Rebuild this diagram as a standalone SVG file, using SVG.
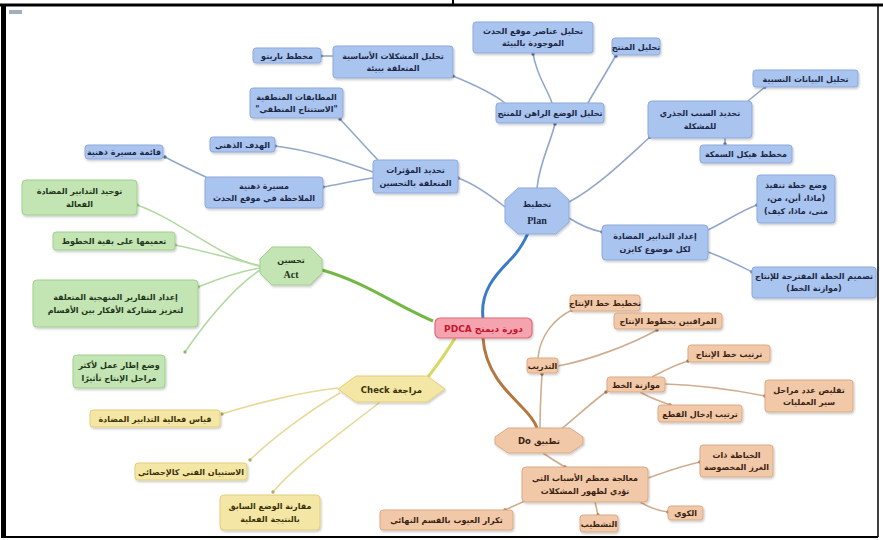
<svg xmlns="http://www.w3.org/2000/svg" width="883" height="540" viewBox="0 0 883 540">
<defs>
<filter id="sh" x="-10%" y="-20%" width="125%" height="150%"><feDropShadow dx="1" dy="1.5" stdDeviation="1" flood-color="#000" flood-opacity="0.22"/></filter>
</defs>
<style>
.t{font-family:"DejaVu Sans",sans-serif;font-size:8px;font-weight:bold;text-anchor:middle;direction:rtl}
.lat{font-family:"Liberation Serif",serif;font-size:10px;font-weight:bold;text-anchor:middle}
.b rect,.b polygon{fill:#a9c4ee;stroke:#8eabdc;stroke-width:1;filter:url(#sh)}
.b text{fill:#1b2744}
.g rect,.g polygon{fill:#c3e4b3;stroke:#a2d08e;stroke-width:1;filter:url(#sh)}
.g text{fill:#1f3519}
.y rect,.y polygon{fill:#f4e6a4;stroke:#e2d07c;stroke-width:1;filter:url(#sh)}
.y text{fill:#3a3208}
.o rect,.o polygon{fill:#f1c9a8;stroke:#dcab85;stroke-width:1;filter:url(#sh)}
.o text{fill:#3b2312}
.c rect{fill:#f5a3ae;stroke:#e06b7b;stroke-width:1.2;filter:url(#sh)}
.c text{fill:#c4152f}
.cb{fill:none;stroke:#93a8c9;stroke-width:1.6}
.cg{fill:none;stroke:#b2d9a1;stroke-width:1.6}
.cy{fill:none;stroke:#e6da98;stroke-width:1.6}
.co{fill:none;stroke:#cfae90;stroke-width:1.6}
.db{fill:#5e7396}.dg{fill:#8fb87c}.dy{fill:#b9a860}.do{fill:#9c7656}
</style>
<rect x="0" y="0" width="883" height="540" fill="#fff"/>
<g id="frame">
<line x1="0" y1="5" x2="883" y2="5" stroke="#000" stroke-width="3"/>
<line x1="453" y1="0" x2="453" y2="5" stroke="#000" stroke-width="2"/>
<rect x="1" y="5" width="5" height="533" fill="#000"/>
<line x1="878" y1="5" x2="878" y2="537" stroke="#000" stroke-width="1.5"/>
<line x1="1" y1="537" x2="878" y2="537" stroke="#000" stroke-width="2"/>
<rect x="9" y="10" width="13" height="4" fill="#a3adc0"/>
</g>
<g id="connectors">
<path d="M483,318 C480,292 495,275 510,260 C520,250 525,240 528,233" fill="none" stroke="#3b7bc8" stroke-width="3"/>
<path d="M433,321 C395,305 365,282 322,270" fill="none" stroke="#72b843" stroke-width="3"/>
<path d="M455,338 C445,355 435,368 428,377" fill="none" stroke="#d6d95e" stroke-width="3"/>
<path d="M483,338 C485,370 505,390 520,405 C530,415 535,422 537,428" fill="none" stroke="#b5773f" stroke-width="3"/>
<path class="cb" d="M537,188 C540,160 552,140 555,123"/>
<path class="cb" d="M533,53 C536,75 548,90 552,103"/>
<path class="cb" d="M616,55 C605,75 595,90 588,103"/>
<path class="cb" d="M453,76 C475,85 495,95 505,103"/>
<path class="cb" d="M333,56 L321,56"/>
<path class="cb" d="M505,207 C490,195 472,183 458,178"/>
<path class="cb" d="M340,119 C355,135 368,150 378,160"/>
<path class="cb" d="M275,146 C310,150 345,162 373,172"/>
<path class="cb" d="M323,187 C340,184 358,180 373,178"/>
<path class="cb" d="M165,157 C180,165 195,172 208,178"/>
<path class="cb" d="M569,202 C600,185 630,155 650,137"/>
<path class="cb" d="M748,101 L765,87"/>
<path class="cb" d="M725,138 L725,145"/>
<path class="cb" d="M569,218 C580,225 592,230 602,232"/>
<path class="cb" d="M708,230 C725,222 742,210 757,205"/>
<path class="cb" d="M708,252 C725,258 740,266 752,272"/>
<path class="cg" d="M260,266 C220,258 180,220 137,205"/>
<path class="cg" d="M260,266 C230,258 200,250 175,245"/>
<path class="cg" d="M260,268 C235,272 215,280 198,287"/>
<path class="cg" d="M260,270 C230,290 200,330 185,352"/>
<path class="cy" d="M338,388 C300,392 250,405 222,414"/>
<path class="cy" d="M340,393 C310,410 270,440 250,460"/>
<path class="cy" d="M380,402 C345,430 295,465 273,492"/>
<path class="co" d="M540,428 C540,410 541,390 542,374"/>
<path class="co" d="M538,358 C540,335 555,318 572,310"/>
<path class="co" d="M558,366 C590,360 630,345 657,330"/>
<path class="co" d="M560,430 C575,418 592,402 606,392"/>
<path class="co" d="M652,377 C665,370 678,364 688,361"/>
<path class="co" d="M665,384 C700,385 735,390 765,396"/>
<path class="co" d="M640,392 C650,398 662,402 670,405"/>
<path class="co" d="M543,453 C550,458 558,463 565,467"/>
<path class="co" d="M648,478 C665,472 685,465 700,462"/>
<path class="co" d="M640,502 C650,508 660,511 668,512"/>
<path class="co" d="M595,502 L598,515"/>
<path class="co" d="M527,500 L505,510"/>
<circle class="db" cx="555" cy="124" r="1.7"/><circle class="db" cx="533" cy="54" r="1.7"/><circle class="db" cx="616" cy="56" r="1.7"/><circle class="db" cx="453" cy="76" r="1.7"/><circle class="db" cx="321" cy="56" r="1.7"/><circle class="db" cx="458" cy="178" r="1.7"/><circle class="db" cx="340" cy="119" r="1.7"/><circle class="db" cx="275" cy="146" r="1.7"/><circle class="db" cx="323" cy="187" r="1.7"/><circle class="db" cx="165" cy="157" r="1.7"/><circle class="db" cx="650" cy="137" r="1.7"/><circle class="db" cx="765" cy="87" r="1.7"/><circle class="db" cx="725" cy="144" r="1.7"/><circle class="db" cx="602" cy="232" r="1.7"/><circle class="db" cx="757" cy="205" r="1.7"/><circle class="db" cx="752" cy="272" r="1.7"/>
<circle class="dg" cx="137" cy="205" r="1.7"/><circle class="dg" cx="175" cy="245" r="1.7"/><circle class="dg" cx="198" cy="287" r="1.7"/><circle class="dg" cx="185" cy="352" r="1.7"/>
<circle class="dy" cx="222" cy="414" r="1.7"/><circle class="dy" cx="250" cy="460" r="1.7"/><circle class="dy" cx="273" cy="492" r="1.7"/>
<circle class="do" cx="542" cy="374" r="1.7"/><circle class="do" cx="572" cy="310" r="1.7"/><circle class="do" cx="657" cy="330" r="1.7"/><circle class="do" cx="606" cy="392" r="1.7"/><circle class="do" cx="688" cy="361" r="1.7"/><circle class="do" cx="765" cy="396" r="1.7"/><circle class="do" cx="670" cy="405" r="1.7"/><circle class="do" cx="565" cy="467" r="1.7"/><circle class="do" cx="700" cy="462" r="1.7"/><circle class="do" cx="668" cy="512" r="1.7"/><circle class="do" cx="598" cy="515" r="1.7"/><circle class="do" cx="505" cy="510" r="1.7"/>
</g>
<g id="center" class="c"><rect x="435" y="318" width="97" height="20" rx="5"/><text class="t" x="483.5" y="331.5" style="font-size:9px">دورة ديمنج PDCA</text></g>
<g id="plan" class="b"><polygon points="518,188 556,188 569,200 569,222 556,234 518,234 505,222 505,200" stroke-linejoin="round"/><text class="t" x="537" y="207">تخطيط</text><text class="lat" x="537" y="224">Plan</text></g>
<g id="p1" class="b"><rect x="496" y="103" width="108" height="20" rx="3"/><text class="t" x="550" y="116">تحليل الوضع الراهن للمنتج</text></g>
<g id="p2" class="b"><rect x="473" y="22" width="120" height="31" rx="3"/><text class="t" x="533" y="34">تحليل عناصر موقع الحدث</text><text class="t" x="533" y="46">الموجودة بالبيئة</text></g>
<g id="p3" class="b"><rect x="612" y="38" width="48" height="17" rx="3"/><text class="t" x="636" y="49.5">تحليل المنتج</text></g>
<g id="p4" class="b"><rect x="333" y="46" width="120" height="32" rx="3"/><text class="t" x="393" y="59">تحليل المشكلات الأساسية</text><text class="t" x="393" y="71">المتعلقة ببيئة</text></g>
<g id="p5" class="b"><rect x="253" y="48" width="68" height="15" rx="3"/><text class="t" x="287" y="58.5">مخطط باريتو</text></g>
<g id="p6" class="b"><rect x="250" y="88" width="93" height="30" rx="3"/><text class="t" x="296.5" y="100">المطابقات المنطقية</text><text class="t" x="296.5" y="112">"الاستنتاج المنطقي"</text></g>
<g id="p7" class="b"><rect x="648" y="101" width="104" height="37" rx="4"/><text class="t" x="700" y="116">تحديد السبب الجذري</text><text class="t" x="700" y="129">للمشكلة</text></g>
<g id="p8" class="b"><rect x="753" y="70" width="105" height="17" rx="3"/><text class="t" x="805.5" y="81.5">تحليل البيانات النسبية</text></g>
<g id="p9" class="b"><rect x="700" y="145" width="92" height="18" rx="3"/><text class="t" x="746" y="157">مخطط هيكل السمكة</text></g>
<g id="p10" class="b"><rect x="373" y="160" width="85" height="33" rx="3"/><text class="t" x="415.5" y="173">تحديد المؤثرات</text><text class="t" x="415.5" y="186">المتعلقة بالتحسين</text></g>
<g id="p11" class="b"><rect x="210" y="137" width="65" height="15" rx="3"/><text class="t" x="242.5" y="147.5">الهدف الذهني</text></g>
<g id="p12" class="b"><rect x="205" y="177" width="118" height="31" rx="3"/><text class="t" x="264" y="189">مسيرة ذهنية</text><text class="t" x="264" y="201">الملاحظة في موقع الحدث</text></g>
<g id="p13" class="b"><rect x="85" y="145" width="78" height="14" rx="3"/><text class="t" x="124" y="155">قائمة مسيرة ذهنية</text></g>
<g id="p14" class="b"><rect x="602" y="225" width="106" height="35" rx="4"/><text class="t" x="655" y="239">إعداد التدابير المضادة</text><text class="t" x="655" y="252">لكل موضوع كايزن</text></g>
<g id="p15" class="b"><rect x="757" y="175" width="78" height="48" rx="3"/><text class="t" x="796" y="188">وضع خطة تنفيذ</text><text class="t" x="796" y="201">(ماذا، أين، من،</text><text class="t" x="796" y="214">متى، ماذا، كيف)</text></g>
<g id="p16" class="b"><rect x="752" y="267" width="124" height="31" rx="3"/><text class="t" x="814" y="279">تصميم الخطة المقترحة للإنتاج</text><text class="t" x="814" y="291">(موازنة الخط)</text></g>
<g id="act" class="g"><polygon points="272,247 310,247 322,259 322,273 310,285 272,285 260,273 260,259" stroke-linejoin="round"/><text class="t" x="291" y="263">تحسين</text><text class="lat" x="291" y="278">Act</text></g>
<g id="a1" class="g"><rect x="22" y="180" width="115" height="35" rx="4"/><text class="t" x="79.5" y="194">توحيد التدابير المضادة</text><text class="t" x="79.5" y="207">الفعالة</text></g>
<g id="a2" class="g"><rect x="53" y="232" width="122" height="18" rx="3"/><text class="t" x="114" y="244">تعميمها على بقية الخطوط</text></g>
<g id="a3" class="g"><rect x="33" y="280" width="165" height="47" rx="4"/><text class="t" x="115.5" y="300">إعداد التقارير المنهجية المتعلقة</text><text class="t" x="115.5" y="313">لتعزيز مشاركة الأفكار بين الأقسام</text></g>
<g id="a4" class="g"><rect x="73" y="355" width="92" height="33" rx="4"/><text class="t" x="119" y="368">وضع إطار عمل لأكثر</text><text class="t" x="119" y="381">مراحل الإنتاج تأثيرًا</text></g>
<g id="check" class="y"><polygon points="338,389 356,376 427,376 445,389 427,402 356,402" stroke-linejoin="round"/><text class="t" x="391.5" y="392.5" style="font-size:8.5px">مراجعة Check</text></g>
<g id="c1" class="y"><rect x="90" y="410" width="130" height="17" rx="3"/><text class="t" x="155" y="421.5">قياس فعالية التدابير المضادة</text></g>
<g id="c2" class="y"><rect x="135" y="463" width="112" height="17" rx="3"/><text class="t" x="191" y="474.5">الاستبيان الفني كالإحصائي</text></g>
<g id="c3" class="y"><rect x="220" y="495" width="100" height="35" rx="4"/><text class="t" x="270" y="509">مقارنة الوضع السابق</text><text class="t" x="270" y="522">بالنتيجة الفعلية</text></g>
<g id="do" class="o"><polygon points="508,428 570,428 583,437 583,444 570,453 508,453 495,444 495,437" stroke-linejoin="round"/><text class="t" x="539" y="444" style="font-size:8.5px">تطبيق Do</text></g>
<g id="d1" class="o"><rect x="527" y="358" width="31" height="15" rx="3"/><text class="t" x="542.5" y="368.5">التدريب</text></g>
<g id="d2" class="o"><rect x="570" y="295" width="70" height="16" rx="3"/><text class="t" x="605" y="306">تخطيط خط الإنتاج</text></g>
<g id="d3" class="o"><rect x="614" y="313" width="108" height="16" rx="3"/><text class="t" x="668" y="324">المراقبين بخطوط الإنتاج</text></g>
<g id="d4" class="o"><rect x="607" y="377" width="58" height="15" rx="3"/><text class="t" x="636" y="387.5">موازنة الخط</text></g>
<g id="d5" class="o"><rect x="688" y="345" width="82" height="17" rx="3"/><text class="t" x="729" y="356.5">ترتيب خط الإنتاج</text></g>
<g id="d6" class="o"><rect x="765" y="380" width="88" height="32" rx="3"/><text class="t" x="809" y="393">تقليص عدد مراحل</text><text class="t" x="809" y="405">سير العمليات</text></g>
<g id="d7" class="o"><rect x="658" y="405" width="84" height="17" rx="3"/><text class="t" x="700" y="416.5">ترتيب إدخال القطع</text></g>
<g id="d8" class="o"><rect x="522" y="467" width="126" height="35" rx="4"/><text class="t" x="585" y="481">معالجة معظم الأسباب التي</text><text class="t" x="585" y="494">تؤدي لظهور المشكلات</text></g>
<g id="d9" class="o"><rect x="700" y="445" width="73" height="32" rx="3"/><text class="t" x="736.5" y="458">الخياطة ذات</text><text class="t" x="736.5" y="470">الغرز المخصوصة</text></g>
<g id="d10" class="o"><rect x="668" y="506" width="35" height="14" rx="3"/><text class="t" x="685.5" y="516">الكوي</text></g>
<g id="d11" class="o"><rect x="580" y="515" width="38" height="17" rx="3"/><text class="t" x="599" y="526.5">التشطيب</text></g>
<g id="d12" class="o"><rect x="380" y="510" width="133" height="20" rx="3"/><text class="t" x="446.5" y="523">تكرار العيوب بالقسم النهائي</text></g>
</svg>
